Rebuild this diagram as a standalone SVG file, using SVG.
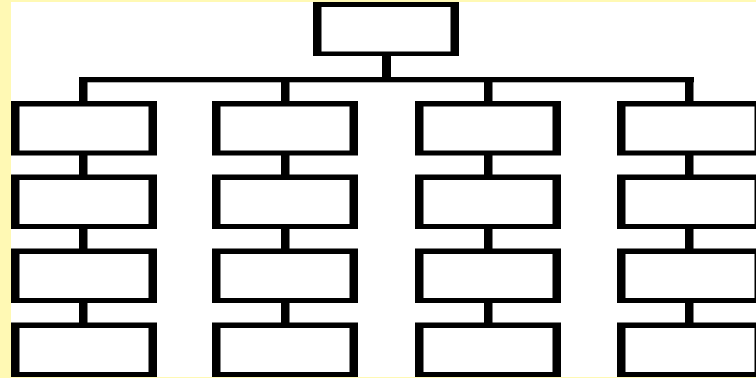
<svg xmlns="http://www.w3.org/2000/svg" width="756" height="378" viewBox="0 0 756 378">
<style>
.o{fill:#000}
.i{fill:#fff}
.c{fill:#000}
</style>
<rect x="0" y="0" width="756" height="378" fill="#FFF9B4"/>
<rect x="11" y="2" width="745" height="375" fill="#fff"/>
<g id="connectors">
<rect class="c" x="382" y="54" width="9" height="26"/>
<rect class="c" x="79" y="77" width="615" height="5.3"/>
<rect class="c" x="79" y="77" width="8.5" height="26"/>
<rect class="c" x="281" y="77" width="8.5" height="26"/>
<rect class="c" x="484" y="77" width="8.5" height="26"/>
<rect class="c" x="685" y="77" width="8.5" height="26"/>
<rect class="c" x="79" y="153" width="8.5" height="23"/>
<rect class="c" x="281" y="153" width="8.5" height="23"/>
<rect class="c" x="484" y="153" width="8.5" height="23"/>
<rect class="c" x="685" y="153" width="8.5" height="23"/>
<rect class="c" x="79" y="227" width="8.5" height="23"/>
<rect class="c" x="281" y="227" width="8.5" height="23"/>
<rect class="c" x="484" y="227" width="8.5" height="23"/>
<rect class="c" x="685" y="227" width="8.5" height="23"/>
<rect class="c" x="79" y="301" width="8.5" height="23"/>
<rect class="c" x="281" y="301" width="8.5" height="23"/>
<rect class="c" x="484" y="301" width="8.5" height="23"/>
<rect class="c" x="685" y="301" width="8.5" height="23"/>
</g>
<g id="root"><rect class="o" x="313" y="2" width="146" height="54"/><rect class="i" x="321.5" y="7" width="129" height="44.5"/></g>
<g id="n11"><rect class="o" x="11" y="101" width="146" height="54.5"/><rect class="i" x="19.5" y="106.5" width="129" height="44"/></g>
<g id="n12"><rect class="o" x="11" y="174.5" width="146" height="54.5"/><rect class="i" x="19.5" y="180" width="129" height="44"/></g>
<g id="n13"><rect class="o" x="11" y="248.5" width="146" height="54.5"/><rect class="i" x="19.5" y="254" width="129" height="44"/></g>
<g id="n14"><rect class="o" x="11" y="322.5" width="146" height="54.5"/><rect class="i" x="19.5" y="328" width="129" height="44"/></g>
<g id="n21"><rect class="o" x="212" y="101" width="146" height="54.5"/><rect class="i" x="220.5" y="106.5" width="129" height="44"/></g>
<g id="n22"><rect class="o" x="212" y="174.5" width="146" height="54.5"/><rect class="i" x="220.5" y="180" width="129" height="44"/></g>
<g id="n23"><rect class="o" x="212" y="248.5" width="146" height="54.5"/><rect class="i" x="220.5" y="254" width="129" height="44"/></g>
<g id="n24"><rect class="o" x="212" y="322.5" width="146" height="54.5"/><rect class="i" x="220.5" y="328" width="129" height="44"/></g>
<g id="n31"><rect class="o" x="415" y="101" width="146" height="54.5"/><rect class="i" x="423.5" y="106.5" width="129" height="44"/></g>
<g id="n32"><rect class="o" x="415" y="174.5" width="146" height="54.5"/><rect class="i" x="423.5" y="180" width="129" height="44"/></g>
<g id="n33"><rect class="o" x="415" y="248.5" width="146" height="54.5"/><rect class="i" x="423.5" y="254" width="129" height="44"/></g>
<g id="n34"><rect class="o" x="415" y="322.5" width="146" height="54.5"/><rect class="i" x="423.5" y="328" width="129" height="44"/></g>
<g id="n41"><rect class="o" x="617" y="101" width="146" height="54.5"/><rect class="i" x="625.5" y="106.5" width="129" height="44"/></g>
<g id="n42"><rect class="o" x="617" y="174.5" width="146" height="54.5"/><rect class="i" x="625.5" y="180" width="129" height="44"/></g>
<g id="n43"><rect class="o" x="617" y="248.5" width="146" height="54.5"/><rect class="i" x="625.5" y="254" width="129" height="44"/></g>
<g id="n44"><rect class="o" x="617" y="322.5" width="146" height="54.5"/><rect class="i" x="625.5" y="328" width="129" height="44"/></g>
</svg>
